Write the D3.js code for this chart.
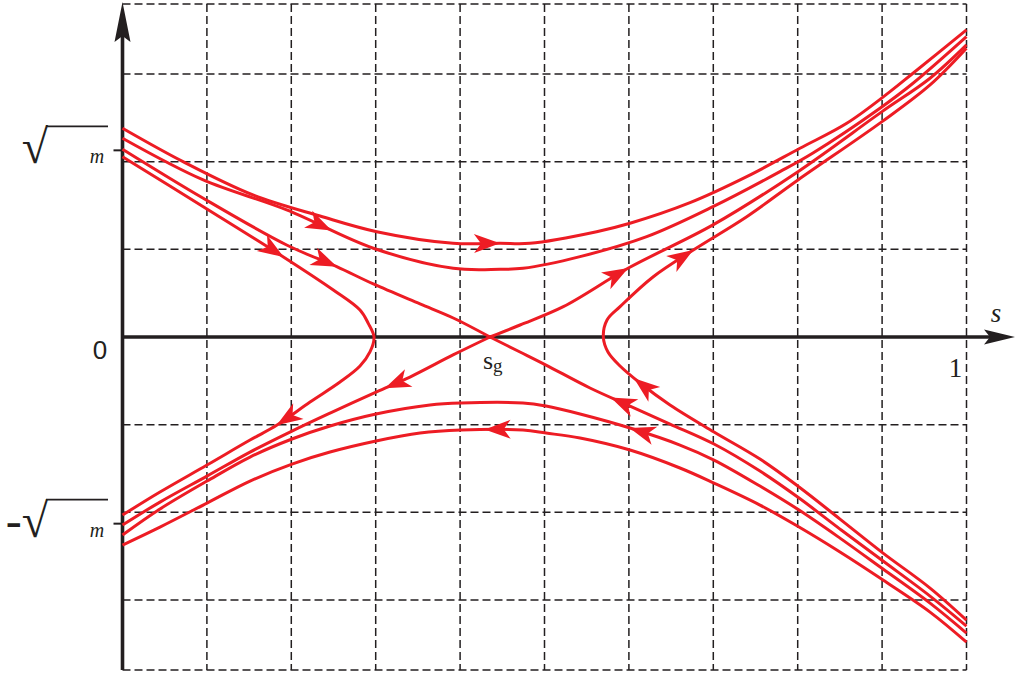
<!DOCTYPE html>
<html>
<head>
<meta charset="utf-8">
<script src="https://cdn.jsdelivr.net/npm/d3@7"></script>
<style>
  html, body { margin: 0; padding: 0; background: #fff; }
  svg { display: block; }
</style>
</head>
<body>
<div id="graph"></div>
<script>
// trajectories of the phase portrait, [s, v] with v in grid units (one dashed cell = 1)
var curveA = [[0,2.382],[0.0717,2.001],[0.1546,1.621],[0.234,1.381],[0.3012,1.202],[0.3916,1.07],[0.4473,1.07],[0.4828,1.07],[0.5618,1.202],[0.6013,1.298],[0.6724,1.533],[0.7396,1.83],[0.8027,2.154],[0.8581,2.439],[0.9094,2.8],[0.9366,3.01],[1,3.505]];
var curveB = [[0,2.268],[0.0957,1.792],[0.1945,1.45],[0.2972,1.013],[0.3919,0.784],[0.4473,0.773],[0.4745,0.784],[0.5421,0.917],[0.6211,1.145],[0.6996,1.487],[0.779,1.887],[0.8181,2.1],[0.8975,2.611],[0.9366,2.896],[1,3.428]];
var sepUpLeft = [[0,2.143],[0.0957,1.583],[0.1945,1.05],[0.2538,0.803],[0.2972,0.605],[0.3525,0.377],[0.3919,0.217],[0.4354,0]];
var sepUpRight = [[0.4354,0],[0.471,0.137],[0.5223,0.346],[0.5989,0.784],[0.6996,1.279],[0.8003,1.887],[0.8999,2.572],[0.9568,2.953],[1,3.333]];
var curveL = [[0,2.058],[0.0957,1.487],[0.1902,0.917],[0.2498,0.537],[0.2814,0.308],[0.2912,0.156],[0.298,0],[0.2932,-0.171],[0.2814,-0.331],[0.2577,-0.514],[0.2222,-0.742],[0.1831,-1.005],[0.1511,-1.176],[0.1001,-1.461],[0.0444,-1.769],[0,-2.032]];
var curveR = [[1,-3.231],[0.9568,-2.865],[0.9011,-2.466],[0.8501,-2.078],[0.8016,-1.712],[0.7553,-1.393],[0.7008,-1.084],[0.6487,-0.776],[0.6132,-0.525],[0.5895,-0.331],[0.5752,-0.171],[0.5697,0],[0.5741,0.194],[0.5895,0.346],[0.6289,0.688],[0.6763,0.993],[0.7396,1.373],[0.8003,1.792],[0.8999,2.458],[0.9568,2.877],[1,3.296]];
var sepLowLeft = [[0.4354,0],[0.3916,-0.205],[0.3406,-0.457],[0.3004,-0.628],[0.2459,-0.868],[0.2008,-1.073],[0.1511,-1.313],[0.1001,-1.587],[0.0444,-1.884],[0,-2.146]];
var sepLowRight = [[1,-3.299],[0.9568,-2.957],[0.9011,-2.557],[0.8501,-2.192],[0.8016,-1.838],[0.7553,-1.53],[0.7008,-1.221],[0.6487,-0.993],[0.6013,-0.788],[0.5539,-0.582],[0.5018,-0.32],[0.471,-0.171],[0.4354,0]];
var curveC = [[1,-3.379],[0.9568,-3.037],[0.9011,-2.648],[0.8501,-2.295],[0.8016,-1.975],[0.7553,-1.701],[0.7008,-1.404],[0.6605,-1.233],[0.6013,-1.039],[0.5421,-0.879],[0.5018,-0.788],[0.4745,-0.753],[0.4011,-0.753],[0.3643,-0.776],[0.3004,-0.879],[0.2459,-1.016],[0.2008,-1.164],[0.1511,-1.37],[0.1001,-1.644],[0.0444,-1.963],[0,-2.26]];
var curveD = [[1,-3.482],[0.9568,-3.139],[0.9011,-2.774],[0.8501,-2.454],[0.8016,-2.169],[0.7553,-1.918],[0.7008,-1.667],[0.6605,-1.495],[0.6013,-1.29],[0.5421,-1.153],[0.5018,-1.096],[0.4745,-1.062],[0.4011,-1.062],[0.3525,-1.096],[0.3004,-1.187],[0.2459,-1.313],[0.2008,-1.45],[0.1511,-1.644],[0.1001,-1.895],[0.0444,-2.169],[0,-2.374]];

var curves = [curveA, curveB, sepUpLeft, sepUpRight, curveL, curveR, sepLowLeft, sepLowRight, curveC, curveD];

// arrow tips: index into curves, [s, v]
var arrows = [
  {c: 0, s: 0.447, v: 1.071},
  {c: 1, s: 0.246, v: 1.177},
  {c: 4, s: 0.193, v: 0.937},
  {c: 2, s: 0.254, v: 0.803},
  {c: 3, s: 0.599, v: 0.785},
  {c: 5, s: 0.676, v: 0.994},
  {c: 6, s: 0.311, v: -0.583},
  {c: 4, s: 0.183, v: -1.006},
  {c: 9, s: 0.429, v: -1.063},
  {c: 5, s: 0.604, v: -0.491},
  {c: 7, s: 0.578, v: -0.686},
  {c: 8, s: 0.601, v: -1.04}
];

var gridS = [0.1, 0.2, 0.3, 0.4, 0.5, 0.6, 0.7, 0.8, 0.9, 1];
var gridV = [-3.8, -3, -2, -1, 1, 2, 3, 3.8];
var rootM = 2.13;   // level of the sqrt(m) ticks
var sG = 0.4354;    // saddle point

var W = 1015, H = 678;
var x = d3.scaleLinear().domain([0, 1]).range([122.5, 966.5]);
var y = d3.scaleLinear().domain([-3.8, 3.8]).range([670, 4]);

var vis = d3.select("#graph").append("svg")
    .attr("width", W).attr("height", H);

var ink = "#231f20", red = "#ed1c24";
var serif = "'Liberation Serif', 'Times New Roman', serif";

// dashed grid
vis.selectAll("line.gv").data(gridS).enter().append("line")
    .attr("class", "gv")
    .attr("x1", function (d) { return x(d); }).attr("x2", function (d) { return x(d); })
    .attr("y1", y(3.8)).attr("y2", y(-3.8))
    .attr("stroke", ink).attr("stroke-width", 1.5).attr("stroke-dasharray", "8,4");
vis.selectAll("line.gh").data(gridV).enter().append("line")
    .attr("class", "gh")
    .attr("x1", x(0)).attr("x2", x(1))
    .attr("y1", function (d) { return y(d); }).attr("y2", function (d) { return y(d); })
    .attr("stroke", ink).attr("stroke-width", 1.5).attr("stroke-dasharray", "8,4");

// axes
vis.append("line").attr("x1", x(0)).attr("x2", x(0)).attr("y1", y(-3.8)).attr("y2", 30)
    .attr("stroke", ink).attr("stroke-width", 3.6);
vis.append("path").attr("d", "M" + x(0) + ",2 L" + (x(0) + 8) + ",42 L" + x(0) + ",36 L" + (x(0) - 8) + ",42 Z")
    .attr("fill", ink);
vis.append("line").attr("x1", x(0)).attr("x2", 995).attr("y1", y(0)).attr("y2", y(0))
    .attr("stroke", ink).attr("stroke-width", 3.6);
vis.append("path").attr("d", "M1015," + y(0) + " L984," + (y(0) - 7.5) + " L990," + y(0) + " L984," + (y(0) + 7.5) + " Z")
    .attr("fill", ink);

// ticks for +-sqrt(m)
vis.selectAll("line.tk").data([rootM, -rootM]).enter().append("line")
    .attr("class", "tk")
    .attr("x1", x(0) - 9).attr("x2", x(0))
    .attr("y1", function (d) { return y(d); }).attr("y2", function (d) { return y(d); })
    .attr("stroke", ink).attr("stroke-width", 2);

// trajectories
var line = d3.line()
    .x(function (d) { return x(d[0]); })
    .y(function (d) { return y(d[1]); })
    .curve(d3.curveCatmullRom.alpha(0.5));

var paths = vis.selectAll("path.traj").data(curves).enter().append("path")
    .attr("class", "traj")
    .attr("d", line)
    .attr("fill", "none")
    .attr("stroke", red)
    .attr("stroke-width", 3)
    .attr("stroke-linejoin", "round");

// arrow heads, oriented along the curve
function arrowPlace(a) {
    var node = paths.nodes()[a.c];
    var len = node.getTotalLength();
    var px = x(a.s), py = y(a.v);
    var best = 0, bestD = Infinity;
    for (var l = 0; l <= len; l += 1) {
        var p = node.getPointAtLength(l);
        var dd = (p.x - px) * (p.x - px) + (p.y - py) * (p.y - py);
        if (dd < bestD) { bestD = dd; best = l; }
    }
    var tip = node.getPointAtLength(best);
    var p0 = node.getPointAtLength(Math.max(best - 8, 0));
    var ang = Math.atan2(tip.y - p0.y, tip.x - p0.x) * 180 / Math.PI;
    return "translate(" + tip.x + "," + tip.y + ") rotate(" + ang + ")";
}
vis.selectAll("path.arrow").data(arrows).enter().append("path")
    .attr("class", "arrow")
    .attr("d", "M0,0 L-26,-9.5 L-19,0 L-26,9.5 Z")
    .attr("fill", red)
    .attr("transform", arrowPlace);

// labels
vis.append("text").attr("x", 100).attr("y", y(0) + 22)
    .attr("text-anchor", "middle")
    .style("font-family", "'Liberation Sans', Arial, sans-serif").style("font-size", "26px")
    .attr("fill", ink).text("0");
vis.append("text").attr("x", x(1) - 11).attr("y", y(0) + 40)
    .attr("text-anchor", "middle")
    .style("font-family", serif).style("font-size", "27px")
    .attr("fill", ink).text("1");
vis.append("text").attr("x", 996).attr("y", y(0) - 15)
    .attr("text-anchor", "middle")
    .style("font-family", serif).style("font-size", "27px")
    .style("font-style", "italic")
    .attr("fill", ink).text("s");
var sg = vis.append("text").attr("x", x(sG) - 7).attr("y", y(0) + 32)
    .style("font-family", serif).style("font-size", "26px")
    .attr("fill", ink);
sg.append("tspan").text("s");
sg.append("tspan").attr("dy", 3).style("font-size", "19px").text("g");

// radical labels
function rootLabel(v, sign) {
    var yy = y(v);
    vis.append("text").attr("x", 48).attr("y", yy + 13)
        .attr("text-anchor", "end")
        .style("font-family", serif).style("font-size", "48px")
        .attr("fill", ink).text(sign + "√");
    vis.append("line").attr("x1", 46).attr("x2", 108)
        .attr("y1", yy - 24).attr("y2", yy - 24)
        .attr("stroke", ink).attr("stroke-width", 1.6);
    vis.append("text").attr("x", 97).attr("y", yy + 13)
        .attr("text-anchor", "middle")
        .style("font-family", serif).style("font-size", "20px")
        .style("font-style", "italic")
        .attr("fill", ink).text("m");
}
rootLabel(rootM, "");
rootLabel(-rootM, "-");
</script>
</body>
</html>
